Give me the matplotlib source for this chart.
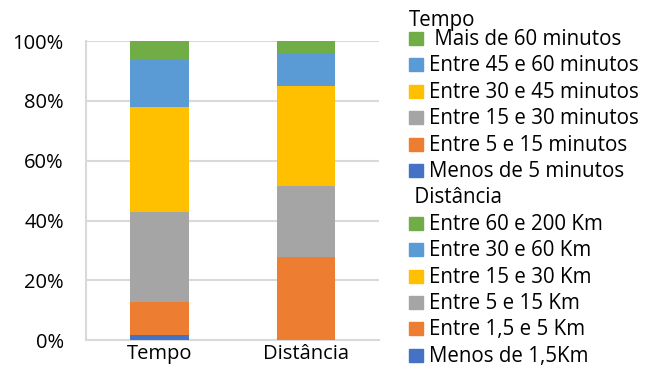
import matplotlib
matplotlib.use("Agg")
import matplotlib.pyplot as plt
from matplotlib.patches import Rectangle
import numpy as np

plt.rcParams['font.family'] = ['Open Sans', 'DejaVu Sans']

categories = ["Tempo", "Distância"]

# series in stacking order (bottom to top)
tempo_labels = ["Menos de 5 minutos", "Entre 5 e 15 minutos", "Entre 15 e 30 minutos",
                "Entre 30 e 45 minutos", "Entre 45 e 60 minutos", " Mais de 60 minutos"]
tempo_values = [1.8, 11.0, 29.9, 35.2, 15.8, 6.3]

dist_labels = ["Menos de 1,5Km", "Entre 1,5 e 5 Km", "Entre 5 e 15 Km",
               "Entre 15 e 30 Km", "Entre 30 e 60 Km", "Entre 60 e 200 Km"]
dist_values = [0.0, 27.9, 23.8, 33.2, 11.1, 4.0]

colors = ["#4472C4", "#ED7D31", "#A5A5A5", "#FFC000", "#5B9BD5", "#70AD47"]

fig = plt.figure(figsize=(6.59, 3.68), dpi=100)
ax = fig.add_axes([0.1305, 0.076, 0.445, 0.812])

x = np.arange(len(categories))
width = 0.4

bottom = 0.0
for v, c in zip(tempo_values, colors):
    ax.bar(x[0], v, width, bottom=bottom, color=c, zorder=3)
    bottom += v
bottom = 0.0
for v, c in zip(dist_values, colors):
    ax.bar(x[1], v, width, bottom=bottom, color=c, zorder=3)
    bottom += v

ax.set_xlim(-0.5, 1.5)
ax.set_ylim(0, 100)
ax.set_yticks(np.arange(0, 101, 20))
ax.set_yticklabels(["%d%%" % t for t in range(0, 101, 20)])
ax.set_xticks(x)
ax.set_xticklabels(categories)
ax.tick_params(axis='both', length=0, labelsize=14.5)
ax.tick_params(axis='y', pad=16)
ax.tick_params(axis='x', pad=3)
ax.grid(axis='y', color='#D9D9D9', linewidth=1.5, zorder=0)
for s in ['top', 'right']:
    ax.spines[s].set_visible(False)
ax.spines['left'].set_color('#D9D9D9')
ax.spines['left'].set_linewidth(1.5)
ax.spines['bottom'].set_color('#D9D9D9')
ax.spines['bottom'].set_linewidth(1.5)

# legend drawn by hand: header rows plus reversed series
W, H = 659.0, 368.0
rows = [(l, c) for l, c in zip(tempo_labels[::-1], colors[::-1])]
rows += [(" Distância", None)]
rows += [(l, c) for l, c in zip(dist_labels[::-1], colors[::-1])]

fs = 14.8
fig.text(409 / W, 1 - 26 / H, "Tempo", fontsize=fs, va='baseline', ha='left')
base0, dy = 45.0, 26.4
for i, (label, c) in enumerate(rows):
    yb = base0 + i * dy
    if c is None:
        fig.text(409 / W, 1 - yb / H, label, fontsize=fs, va='baseline', ha='left')
    else:
        fig.patches.append(Rectangle((409 / W, 1 - yb / H), 14 / W, 13 / H,
                                     transform=fig.transFigure, color=c))
        fig.text(429 / W, 1 - yb / H, label, fontsize=fs, va='baseline', ha='left')

fig.savefig("out.png", dpi=100)
